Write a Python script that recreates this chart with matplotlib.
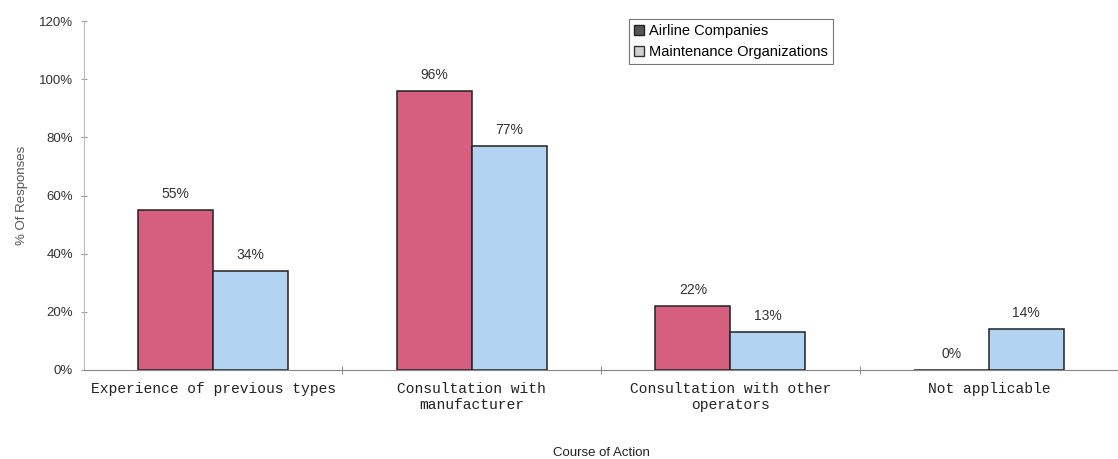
import matplotlib.pyplot as plt
import matplotlib.patches as mpatches
import numpy as np

categories = ['Experience of previous types', 'Consultation with\nmanufacturer',
              'Consultation with other\noperators', 'Not applicable']
airline = [55, 96, 22, 0]
maintenance = [34, 77, 13, 14]
series_names = ['Airline Companies', 'Maintenance Organizations']

pink = '#d65f80'
blue = '#b3d3f2'

fig = plt.figure(figsize=(11.18, 4.59), dpi=100)
ax = fig.add_axes([0.0751, 0.194, 0.925, 0.760])

x = np.arange(len(categories))
w = 0.29
ax.bar(x - w/2, airline, w, color=pink, edgecolor='#222222', linewidth=1.1)
ax.bar(x + w/2, maintenance, w, color=blue, edgecolor='#222222', linewidth=1.1)

for xi, v in zip(x - w/2, airline):
    ax.annotate('%d%%' % v, (xi, v), xytext=(0, 6.5), textcoords='offset points',
                ha='center', va='bottom', fontsize=10, color='#333333',
                family='Liberation Sans')
for xi, v in zip(x + w/2, maintenance):
    ax.annotate('%d%%' % v, (xi, v), xytext=(0, 6.5), textcoords='offset points',
                ha='center', va='bottom', fontsize=10, color='#333333',
                family='Liberation Sans')

ax.set_xlim(-0.5, len(categories) - 0.5)
ax.set_ylim(0, 120)
ax.set_yticks(range(0, 121, 20))
ax.set_yticklabels(['%d%%' % t for t in range(0, 121, 20)], family='Liberation Sans',
                   fontsize=9.5, color='#333333')
ax.set_xticks(x)
ax.set_xticklabels(categories, family='Liberation Mono', fontsize=10.5, color='#222222',
                   linespacing=1.15)
ax.tick_params(axis='x', length=0, pad=9)
ax.set_xticks(x[:-1] + 0.5, minor=True)
ax.tick_params(axis='x', which='minor', length=6, direction='inout', color='#777777')
ax.tick_params(axis='y', length=4, direction='inout', color='#999999', pad=6)

for s in ['top', 'right']:
    ax.spines[s].set_visible(False)
ax.spines['left'].set_color('#bbbbbb')
ax.spines['bottom'].set_color('#888888')

ax.set_ylabel('% Of Responses', family='Liberation Sans', fontsize=9.5, color='#555555',
              labelpad=8)
ax.set_xlabel('Course of Action', family='Liberation Sans', fontsize=9.5, color='#222222',
              labelpad=25)

handles = [mpatches.Patch(facecolor='#555555', edgecolor='#222222', label=series_names[0]),
           mpatches.Patch(facecolor='#d0d0d0', edgecolor='#333333', label=series_names[1])]
leg = ax.legend(handles=handles, loc='upper left', bbox_to_anchor=(0.527, 1.005),
                prop={'family': 'Liberation Sans', 'size': 10.5}, fancybox=False,
                handlelength=0.7, handleheight=0.7, handletextpad=0.3,
                borderpad=0.35, labelspacing=0.45, borderaxespad=0)
leg.get_frame().set_edgecolor('#555555')
leg.get_frame().set_linewidth(0.8)

plt.savefig('out.png', dpi=100)
